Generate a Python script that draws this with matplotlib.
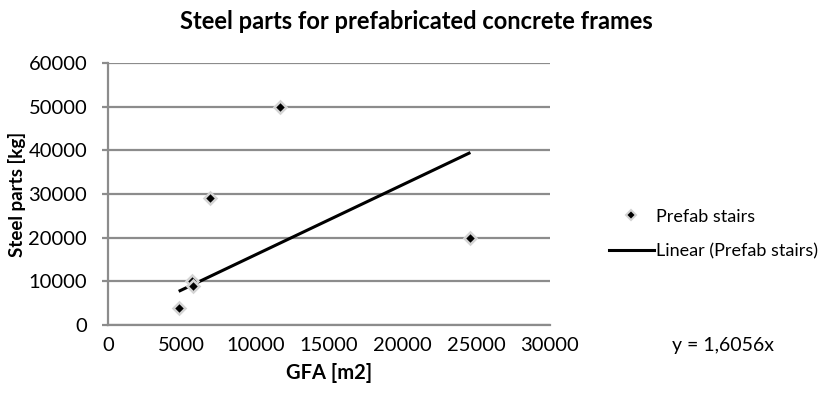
"""
Steel parts for prefabricated concrete frames - scatter with linear trend
"""
import matplotlib
matplotlib.use('Agg')
import matplotlib.pyplot as plt
from matplotlib.lines import Line2D

# Data
gfa = [4800, 5700, 5800, 6900, 11700, 24600]
steel = [4000, 10000, 9000, 29000, 50000, 20000]
slope = 1.6056  # trendline through origin

x_ticks = [0, 5000, 10000, 15000, 20000, 25000, 30000]
y_ticks = [0, 10000, 20000, 30000, 40000, 50000, 60000]

plt.rcParams['font.family'] = ['Lato', 'DejaVu Sans']

fig = plt.figure(figsize=(8.32, 3.97), dpi=100)
ax = fig.add_axes([0.1298, 0.1814, 0.5312, 0.6599])

GRID = '#8c8c8c'
FS = 14.5

# Horizontal grid lines
for yv in y_ticks:
    ax.axhline(yv, color=GRID, lw=1.6, zorder=1)

# Trendline over the data range
x0, x1 = min(gfa), max(gfa)
ax.plot([x0, x1], [slope * x0, slope * x1], color='black', lw=2.2,
        solid_capstyle='butt', zorder=3)

# Markers: black diamonds with a light grey halo
ax.plot(gfa, steel, linestyle='none', marker='D', markersize=6.5,
        markerfacecolor='black', markeredgecolor='#d4d4d4',
        markeredgewidth=1.8, zorder=4)

ax.set_xlim(0, 30000)
ax.set_ylim(0, 60000)
ax.set_xticks(x_ticks)
ax.set_yticks(y_ticks)
ax.tick_params(axis='x', length=0, pad=9, labelsize=FS, colors='black')
ax.tick_params(axis='y', length=4, width=1.6, color=GRID, pad=11,
               labelsize=FS)

for side in ['top', 'right']:
    ax.spines[side].set_visible(False)
for side in ['left', 'bottom']:
    ax.spines[side].set_color(GRID)
    ax.spines[side].set_linewidth(1.6)

ax.set_xlabel('GFA [m2]', fontsize=FS, fontweight='bold', labelpad=6)
ax.set_ylabel('Steel parts [kg]', fontsize=13.5, fontweight='bold', labelpad=2)

fig.text(0.5, 0.945, 'Steel parts for prefabricated concrete frames',
         ha='center', va='center', fontsize=17, fontweight='bold')

# Legend (placed outside on the right)
handles = [
    Line2D([], [], linestyle='none', marker='D', markersize=5,
           markerfacecolor='black', markeredgecolor='#d4d4d4',
           markeredgewidth=1.5),
    Line2D([], [], color='black', lw=2.2),
]
fig.legend(handles, ['Prefab stairs', 'Linear (Prefab stairs)'],
           loc='center left', bbox_to_anchor=(0.712, 0.41),
           frameon=False, fontsize=13, handlelength=2.5,
           handletextpad=0.15, labelspacing=1.05)

fig.text(0.808, 0.13, 'y = 1,6056x', ha='left', va='center', fontsize=14)

fig.savefig('out.png', dpi=100)
plt.close(fig)
